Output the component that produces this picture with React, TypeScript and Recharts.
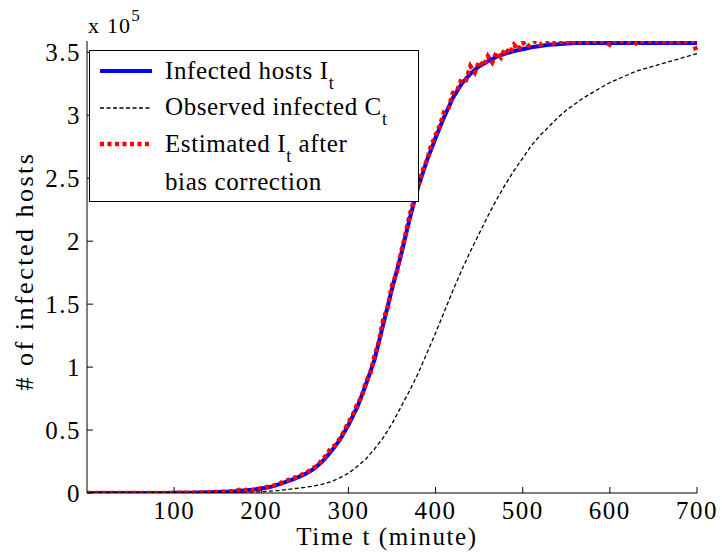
import { Line, LineChart, XAxis, YAxis } from 'recharts';

const FONT = 'Liberation Serif';

// time grids (minutes)
const MINUTES_10 = [
  0, 10, 20, 30, 40, 50, 60, 70, 80, 90, 100, 110, 120, 130, 140, 150, 160, 170, 180, 190,
  200, 210, 220, 230, 240, 250, 260, 270, 280, 290, 300, 310, 320, 330, 340, 350, 360, 370, 380, 390,
  400, 410, 420, 430, 440, 450, 460, 470, 480, 490, 500, 510, 520, 530, 540, 550, 560, 570, 580, 590,
  600, 610, 620, 630, 640, 650, 660, 670, 680, 690, 700,
];
const MINUTES_5 = [
  0, 5, 10, 15, 20, 25, 30, 35, 40, 45, 50, 55, 60, 65, 70, 75, 80, 85, 90, 95,
  100, 105, 110, 115, 120, 125, 130, 135, 140, 145, 150, 155, 160, 165, 170, 175, 180, 185, 190, 195,
  200, 205, 210, 215, 220, 225, 230, 235, 240, 245, 250, 255, 260, 265, 270, 275, 280, 285, 290, 295,
  300, 305, 310, 315, 320, 325, 330, 335, 340, 345, 350, 355, 360, 365, 370, 375, 380, 385, 390, 395,
  400, 405, 410, 415, 420, 425, 430, 435, 440, 445, 450, 455, 460, 465, 470, 475, 480, 485, 490, 495,
  500, 505, 510, 515, 520, 525, 530, 535, 540, 545, 550, 555, 560, 565, 570, 575, 580, 585, 590, 595,
  600, 605, 610, 615, 620, 625, 630, 635, 640, 645, 650, 655, 660, 665, 670, 675, 680, 685, 690, 695,
  700,
];

// values in units of 1e5 hosts
const INFECTED = [
  0, 0, 0, 0, 0, 0, 0, 0, 0, 0, 0.001, 0.001, 0.002, 0.003, 0.005, 0.007, 0.01, 0.014, 0.02, 0.026,
  0.035, 0.047, 0.068, 0.093, 0.118, 0.15, 0.19, 0.25, 0.33, 0.42, 0.54, 0.68, 0.86, 1.06, 1.34, 1.62, 1.88, 2.17, 2.43, 2.64,
  2.82, 2.99, 3.14, 3.25, 3.33, 3.39, 3.43, 3.465, 3.49, 3.51, 3.525, 3.54, 3.55, 3.56, 3.565, 3.57, 3.575, 3.575, 3.575, 3.575,
  3.575, 3.575, 3.575, 3.575, 3.575, 3.575, 3.575, 3.575, 3.575, 3.575, 3.575,
];
const OBSERVED = [
  0, 0, 0, 0, 0, 0, 0, 0, 0, 0, 0, 0, 0, 0, 0.001, 0.002, 0.003, 0.004, 0.006, 0.008,
  0.01, 0.015, 0.02, 0.028, 0.037, 0.045, 0.055, 0.07, 0.09, 0.12, 0.157, 0.21, 0.27, 0.35, 0.44, 0.55, 0.68, 0.81, 0.95, 1.11,
  1.27, 1.44, 1.61, 1.77, 1.92, 2.06, 2.2, 2.33, 2.45, 2.56, 2.66, 2.76, 2.84, 2.91, 2.98, 3.04, 3.09, 3.14, 3.18, 3.22,
  3.26, 3.29, 3.32, 3.35, 3.37, 3.39, 3.41, 3.43, 3.45, 3.47, 3.49,
];
const ESTIMATED = [
  0, 0, 0, 0, 0, 0, 0, 0, 0, 0, 0, 0, 0, 0, 0, 0, 0, 0, 0, 0,
  0.001, 0.001, 0.001, 0.002, 0.002, 0.003, 0.003, 0.004, 0.004, 0.012, 0.006, 0.01, 0.008, 0.014, 0.012, 0.025, 0.016, 0.032, 0.022, 0.036,
  0.033, 0.045, 0.05, 0.06, 0.068, 0.09, 0.1, 0.118, 0.125, 0.14, 0.155, 0.175, 0.2, 0.215, 0.27, 0.3, 0.36, 0.38, 0.43, 0.49,
  0.56, 0.62, 0.7, 0.76, 0.88, 0.95, 1.09, 1.2, 1.38, 1.47, 1.65, 1.74, 1.9, 2.04, 2.2, 2.32, 2.44, 2.56, 2.64, 2.76,
  2.84, 2.92, 3.03, 3.06, 3.18, 3.2, 3.29, 3.28, 3.39, 3.34, 3.43, 3.39, 3.47, 3.42, 3.5, 3.46, 3.53, 3.49, 3.56, 3.52,
  3.58, 3.54, 3.57, 3.59, 3.56, 3.58, 3.59, 3.57, 3.59, 3.58, 3.59, 3.56, 3.59, 3.58, 3.59, 3.58, 3.59, 3.58, 3.59, 3.58,
  3.56, 3.59, 3.58, 3.59, 3.58, 3.59, 3.57, 3.59, 3.58, 3.59, 3.58, 3.59, 3.58, 3.59, 3.58, 3.59, 3.58, 3.59, 3.58, 3.59,
  3.5,
];

const X_TICKS = [100, 200, 300, 400, 500, 600, 700];
const Y_TICKS = [0, 0.5, 1, 1.5, 2, 2.5, 3, 3.5];

const mainData = MINUTES_10.map((t, i) => ({ t, infected: INFECTED[i], observed: OBSERVED[i] }));
const estData = MINUTES_5.map((t, i) => ({ t, estimated: ESTIMATED[i] }));

const FS = 25;
const tickStyle = { fill: '#000', fontSize: FS, fontFamily: FONT, letterSpacing: 1.5 };

export default function App() {
  return (
    <div style={{ position: 'absolute', left: 0, top: 0, width: 722, height: 555, background: '#fff' }}>
      <LineChart width={722} height={555} data={mainData} margin={{ top: 41, right: 25, bottom: 0, left: 0 }}>
        <XAxis
          dataKey="t"
          type="number"
          domain={[0, 700]}
          ticks={X_TICKS}
          height={62}
          tickSize={-6}
          tickMargin={14}
          tick={tickStyle}
          stroke="#000"
        />
        <XAxis xAxisId="top" orientation="top" type="number" domain={[0, 700]} ticks={X_TICKS} height={0} tickSize={-6} tick={false} stroke="#000" />
        <YAxis
          type="number"
          domain={[0, 3.59]}
          ticks={Y_TICKS}
          width={87}
          tickSize={-6}
          tickMargin={12}
          tick={tickStyle}
          stroke="#000"
          allowDataOverflow
        />
        <YAxis yAxisId="right" orientation="right" type="number" domain={[0, 3.59]} ticks={Y_TICKS} width={0} tickSize={-6} tick={false} stroke="#000" />
        <Line dataKey="infected" stroke="#0000ff" strokeWidth={4} dot={false} isAnimationActive={false} />
        <Line dataKey="observed" stroke="#000" strokeWidth={1.3} strokeDasharray="4 2.5" dot={false} isAnimationActive={false} />
        <Line data={estData} dataKey="estimated" stroke="#ff0000" strokeWidth={4.5} strokeDasharray="4 3.5" dot={false} isAnimationActive={false} />
      </LineChart>

      <svg width={722} height={555} style={{ position: 'absolute', left: 0, top: 0, pointerEvents: 'none' }} fontFamily={FONT}>
        <text x={88} y={33} fontSize={22} fill="#000" letterSpacing={1.2}>
          x 10<tspan fontSize={17} dy={-12}>5</tspan>
        </text>
        <text x={24} y={271} fontSize={26} fill="#000" letterSpacing={2.5} textAnchor="middle" dominantBaseline="central" transform="rotate(-90 24 271)">
          # of infected hosts
        </text>
        <text x={387} y={545} fontSize={FS} fill="#000" letterSpacing={1.6} textAnchor="middle">
          Time t (minute)
        </text>

        <rect x={89.5} y={50.5} width={329} height={151} fill="#fff" stroke="#000" strokeWidth={1} />
        <line x1={100} x2={152} y1={71} y2={71} stroke="#0000ff" strokeWidth={4} />
        <line x1={100} x2={152} y1={108} y2={108} stroke="#000" strokeWidth={1.3} strokeDasharray="4 2.5" />
        <line x1={100} x2={152} y1={144} y2={144} stroke="#ff0000" strokeWidth={4.5} strokeDasharray="4 3.5" />
        <g fontSize={FS} fill="#000" letterSpacing={0.6}>
          <text x={165} y={79}>
            Infected hosts I<tspan fontSize={18} dy={10}>t</tspan>
          </text>
          <text x={165} y={115}>
            Observed infected C<tspan fontSize={18} dy={10}>t</tspan>
          </text>
          <text x={165} y={152}>
            Estimated I<tspan fontSize={18} dy={10}>t</tspan>
            <tspan dy={-10}> after</tspan>
          </text>
          <text x={165} y={190}>
            bias correction
          </text>
        </g>
      </svg>
    </div>
  );
}
